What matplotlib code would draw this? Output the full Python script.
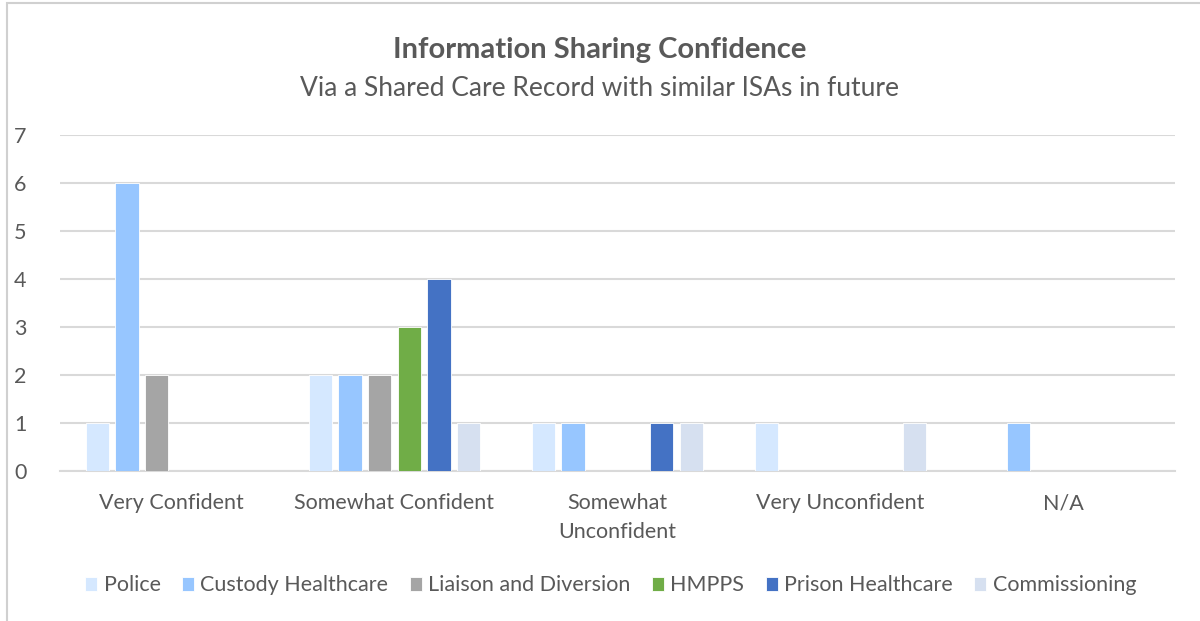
import matplotlib.pyplot as plt
import matplotlib.patches as mpatches
import numpy as np

# chart data
categories = ['Very Confident', 'Somewhat Confident', 'Somewhat\nUnconfident',
              'Very Unconfident', 'N/A']
series_names = ['Police', 'Custody Healthcare', 'Liaison and Diversion',
                'HMPPS', 'Prison Healthcare', 'Commissioning']
police = [1, 2, 1, 1, 0]
custody = [6, 2, 1, 0, 1]
liaison = [2, 2, 0, 0, 0]
hmpps = [0, 3, 0, 0, 0]
prison = [0, 4, 1, 0, 0]
commissioning = [0, 1, 1, 1, 0]
colors = ['#D5E8FF', '#97C6FF', '#A5A5A5', '#70AD47', '#4472C4', '#D6E0F0']

plt.rcParams['font.family'] = ['Lato', 'DejaVu Sans']
text_color = '#595959'
grid_color = '#D9D9D9'

fig = plt.figure(figsize=(12, 6.21), dpi=100)
ax = fig.add_axes([0.05, 0.2415, 0.929, 0.5411])

x = np.arange(len(categories))
pitch = 0.133
width = 0.104
all_series = [police, custody, liaison, hmpps, prison, commissioning]
for i, vals in enumerate(all_series):
    ax.bar(x + (i - 2.5) * pitch, vals, width, color=colors[i],
           edgecolor='white', linewidth=0.6, label=series_names[i], zorder=3)

ax.set_xlim(-0.5, len(categories) - 0.5)
ax.set_ylim(0, 7)
ax.set_yticks(range(0, 8))
ax.yaxis.grid(True, color=grid_color, linewidth=1.5, zorder=0)
ax.set_axisbelow(True)
for side in ['top', 'right', 'left']:
    ax.spines[side].set_visible(False)
ax.spines['bottom'].set_color(grid_color)
ax.spines['bottom'].set_linewidth(1.5)
ax.tick_params(axis='both', length=0, labelsize=15.5, colors=text_color)
ax.tick_params(axis='x', pad=16)
ax.tick_params(axis='y', pad=24)
ax.set_xticks(x)
ax.set_xticklabels(categories, linespacing=1.55)

fig.text(0.5, 0.92, 'Information Sharing Confidence', ha='center', va='center',
         fontsize=21, fontweight='bold', color=text_color)
fig.text(0.5, 0.858, 'Via a Shared Care Record with similar ISAs in future',
         ha='center', va='center', fontsize=19, color=text_color)

ax.legend(loc='center', bbox_to_anchor=(0.494, -0.34), ncol=6, frameon=False,
          fontsize=15.5, labelcolor=text_color, handlelength=0.55, handleheight=0.6,
          handletextpad=0.3, columnspacing=1.0)

# outer chart frame
fig.patches.append(mpatches.Rectangle((7 / 1200, -0.1), 1.1, 1.1 - 3 / 621,
                                      transform=fig.transFigure, fill=False,
                                      edgecolor='#D0D0D0', linewidth=1.5))

fig.savefig('out.png', dpi=100)
